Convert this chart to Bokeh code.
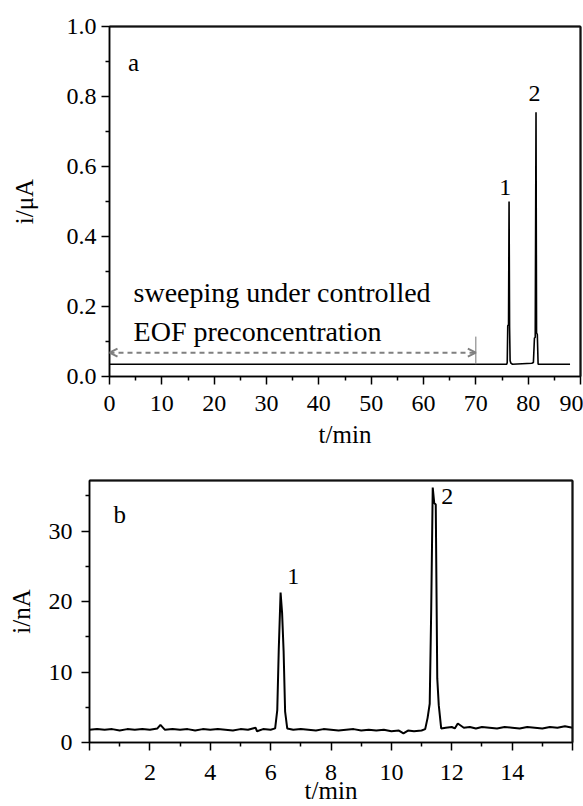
from bokeh.plotting import figure
from bokeh.models import Range1d, FixedTicker, Arrow, OpenHead, LinearAxis, CustomJSTickFormatter
from bokeh.core.properties import value
from bokeh.embed import file_html
from bokeh.resources import INLINE

# ---------------- data: panel a ----------------
t_a = [0.0, 75.9, 76.0, 76.1, 76.25, 76.35, 76.45, 76.55, 76.7, 77.0,
       80.7, 81.0, 81.2, 81.35, 81.5, 81.6, 81.75, 81.9, 88.0]
i_a = [0.035, 0.035, 0.040, 0.145, 0.148, 0.500, 0.140, 0.045, 0.038, 0.035,
       0.038, 0.040, 0.110, 0.112, 0.755, 0.125, 0.120, 0.035, 0.035]
a_xticks = [0, 10, 20, 30, 40, 50, 60, 70, 80, 90]
a_yticks = [0.0, 0.2, 0.4, 0.6, 0.8, 1.0]
sweep_start, sweep_end, sweep_y = 0, 70, 0.068
marker_x, marker_y0, marker_y1 = 70, 0.035, 0.114
a_peak_x = [75.6, 81.2]
a_peak_y = [0.54, 0.81]
a_peak_lbl = ["1", "2"]
a_note_x = [4.6, 4.6]
a_note_y = [0.24, 0.128]
a_note_txt = ["sweeping under controlled", "EOF preconcentration"]

# ---------------- data: panel b ----------------
t_b = [0.00, 0.25, 0.50, 0.75, 1.00, 1.25, 1.50, 1.75, 2.00, 2.25, 2.35, 2.50,
       2.75, 3.00, 3.25, 3.50, 3.75, 4.00, 4.25, 4.50, 4.75, 5.00, 5.25, 5.50,
       5.55, 5.75, 6.00, 6.15, 6.22, 6.27, 6.33, 6.38, 6.43, 6.48, 6.55, 6.75,
       7.00, 7.25, 7.50, 7.75, 8.00, 8.25, 8.50, 8.75, 9.00, 9.25, 9.50, 9.75,
       10.00, 10.25, 10.40, 10.55, 10.75, 11.00, 11.12, 11.20, 11.27, 11.32,
       11.37, 11.42, 11.47, 11.52, 11.57, 11.65, 11.80, 12.00, 12.10, 12.20,
       12.40, 12.60, 12.80, 13.00, 13.25, 13.50, 13.75, 14.00, 14.25, 14.50,
       14.75, 15.00, 15.25, 15.50, 15.75, 16.00]
i_b = [1.8, 1.9, 1.8, 1.9, 1.7, 1.9, 1.8, 1.9, 1.8, 2.0, 2.5, 1.8,
       1.9, 1.8, 1.9, 1.7, 1.9, 1.8, 1.9, 1.8, 1.7, 1.9, 1.8, 2.1,
       1.6, 1.9, 1.8, 2.0, 4.6, 13.3, 21.3, 18.4, 13.0, 4.4, 2.0, 1.8,
       1.9, 1.8, 1.7, 1.9, 1.8, 1.7, 1.8, 1.9, 1.7, 1.8, 1.7, 1.8,
       1.6, 1.7, 1.3, 1.7, 1.6, 1.7, 1.9, 3.5, 5.5, 19.0,
       36.2, 34.0, 33.8, 9.1, 5.3, 2.0, 2.1, 2.2, 2.0, 2.7,
       2.1, 2.2, 2.0, 2.2, 2.1, 2.0, 2.2, 2.1, 2.0, 2.2,
       2.1, 2.0, 2.2, 2.1, 2.3, 2.1]
b_xticks = [0, 2, 4, 6, 8, 10, 12, 14, 16]
b_xlabels = {0: "", 16: ""}
b_yticks = [0, 10, 20, 30]
b_peak_x = [6.75, 11.85]
b_peak_y = [23.5, 34.9]
b_peak_lbl = ["1", "2"]
b_tag_x, b_tag_y = [1.0], [32.4]

SERIF = "Liberation Serif"


def style(p):
    p.outline_line_color = "black"
    p.outline_line_width = 1.5
    p.grid.visible = False
    p.background_fill_color = "white"
    p.border_fill_color = "white"
    for ax in p.xaxis + p.yaxis:
        ax.axis_line_color = "black"
        ax.axis_line_width = 1.5
        ax.major_tick_line_color = "black"
        ax.minor_tick_line_color = "black"
        ax.major_tick_line_width = 1.5
        ax.minor_tick_line_width = 1.5
        ax.major_tick_in = 0
        ax.major_tick_out = 8
        ax.minor_tick_in = 0
        ax.minor_tick_out = 4
        ax.major_label_text_font = SERIF
        ax.major_label_text_font_size = "24px"
        ax.major_label_text_color = "black"
        ax.axis_label_text_font = SERIF
        ax.axis_label_text_font_size = "25px"
        ax.axis_label_text_font_style = "normal"
        ax.axis_label_text_color = "black"


def box(p):
    # top and right edges of the frame, drawn as bare axes
    for side in ("above", "right"):
        ax = LinearAxis(ticker=FixedTicker(ticks=[], minor_ticks=[]),
                        axis_line_color="#111111", axis_line_width=2,
                        major_tick_out=0, minor_tick_out=0, major_tick_in=0,
                        minor_tick_in=0, major_label_text_font_size="0px",
                        major_label_standoff=0, axis_label=None)
        p.add_layout(ax, side)


# ---------------- panel a ----------------
p1 = figure(width=583, height=450, output_backend="svg", toolbar_location=None,
            x_range=Range1d(0, 90), y_range=Range1d(0, 1.0),
            min_border_left=109, min_border_right=3, min_border_top=26,
            min_border_bottom=73)
style(p1)
p1.xaxis.axis_label = "t/min"
p1.yaxis.axis_label = "i/μA"
p1.xaxis.major_label_standoff = 11
p1.xaxis.axis_label_standoff = 7
p1.yaxis.major_label_standoff = 5
p1.yaxis.axis_label_standoff = 26
p1.xaxis.ticker = FixedTicker(ticks=a_xticks, minor_ticks=[v + 5 for v in a_xticks[:-1]])
p1.yaxis.ticker = FixedTicker(ticks=a_yticks, minor_ticks=[v + 0.1 for v in a_yticks[:-1]])
p1.yaxis.formatter = CustomJSTickFormatter(code="return tick.toFixed(1);")
box(p1)

p1.line(t_a, i_a, line_color="black", line_width=1.6)
p1.segment(x0=[marker_x], y0=[marker_y0], x1=[marker_x], y1=[marker_y1],
           line_color="#777777", line_width=1)
p1.add_layout(Arrow(start=OpenHead(size=8, line_color="#808080", line_width=2),
                    end=OpenHead(size=8, line_color="#808080", line_width=2),
                    x_start=sweep_start, y_start=sweep_y, x_end=sweep_end, y_end=sweep_y,
                    line_color="#808080", line_width=2, line_dash="5 4"))
p1.text(x=a_peak_x, y=a_peak_y, text=a_peak_lbl, text_font=value(SERIF),
        text_font_size="24px", text_align="center", text_baseline="middle",
        text_color="black")
p1.text(x=a_note_x, y=a_note_y, text=a_note_txt, text_font=value(SERIF),
        text_font_size="28px", text_align="left", text_baseline="middle",
        text_color="black")
p1.text(x=[4.6], y=[0.897], text=["a"], text_font=value(SERIF),
        text_font_size="25px", text_align="center", text_baseline="middle",
        text_color="black")

# ---------------- panel b ----------------
p2 = figure(width=583, height=356, output_backend="svg", toolbar_location=None,
            x_range=Range1d(0, 16), y_range=Range1d(0, 37.2),
            min_border_left=89, min_border_right=11, min_border_top=30,
            min_border_bottom=59)
style(p2)
p2.xaxis.axis_label = "t/min"
p2.yaxis.axis_label = "i/nA"
p2.xaxis.major_label_standoff = 14
p2.xaxis.axis_label_standoff = -6
p2.yaxis.major_label_standoff = 9
p2.yaxis.axis_label_standoff = 11
p2.xaxis.ticker = FixedTicker(ticks=b_xticks, minor_ticks=[v + 1 for v in b_xticks[:-1]])
p2.xaxis.major_label_overrides = b_xlabels
p2.yaxis.ticker = FixedTicker(ticks=b_yticks, minor_ticks=[5, 15, 25, 35])
box(p2)

p2.line(t_b, i_b, line_color="black", line_width=2)
p2.text(x=b_peak_x, y=b_peak_y, text=b_peak_lbl, text_font=value(SERIF),
        text_font_size="24px", text_align="center", text_baseline="middle",
        text_color="black")
p2.text(x=b_tag_x, y=b_tag_y, text=["b"], text_font=value(SERIF),
        text_font_size="25px", text_align="center", text_baseline="middle",
        text_color="black")

open("out.html", "w").write(file_html([p1, p2], INLINE))
